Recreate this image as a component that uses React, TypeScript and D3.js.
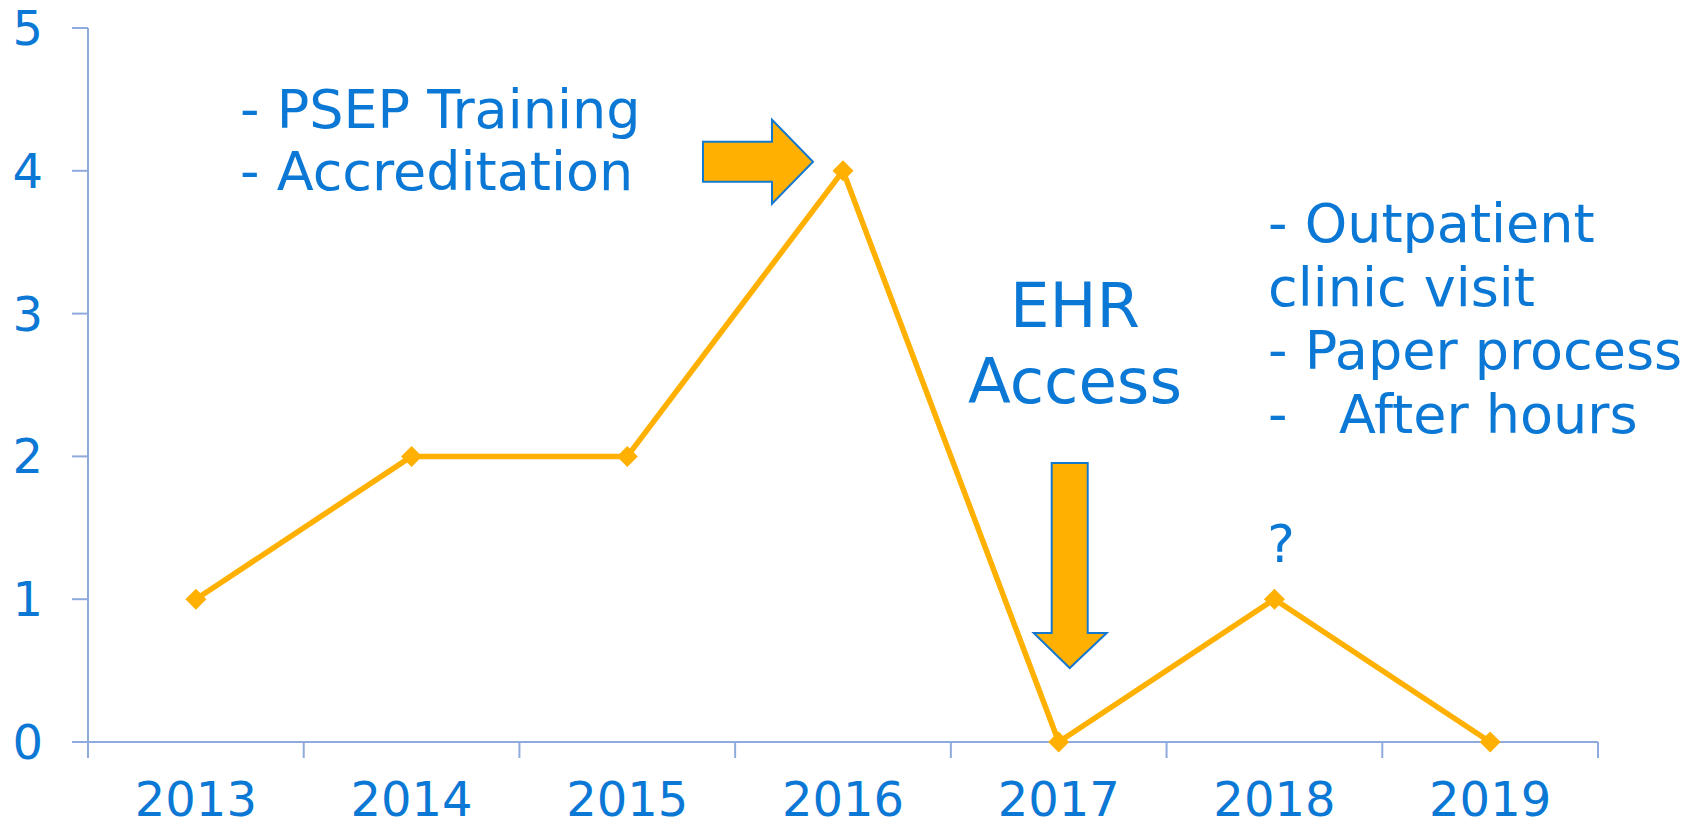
import React from "react";
import * as d3 from "d3";

const years = ["2013", "2014", "2015", "2016", "2017", "2018", "2019"];
const values = [1, 2, 2, 4, 0, 1, 0];
const yTicks = [0, 1, 2, 3, 4, 5];
const noteLeft = ["- PSEP Training", "- Accreditation"];
const noteEHR = ["EHR", "Access"];
const noteRight = ["- Outpatient", "clinic visit", "- Paper process", "-   After hours"];
const noteQ = "?";

const W = 1697;
const H = 828;
const TEXT = "#0A78D4";
const ORANGE = "#FFB000";
const AXIS = "#8FAADC";
const FONT = "'DejaVu Sans', Verdana, sans-serif";

export default function App() {
  const x = d3.scaleBand<string>().domain(years).range([88, 1598]).padding(0);
  const y = d3.scaleLinear().domain([0, 5]).range([742, 28]);
  const cx = (yr: string) => (x(yr) as number) + x.bandwidth() / 2;
  const pts: [number, number][] = years.map((yr, i) => [cx(yr), y(values[i])]);
  const line = d3.line<[number, number]>().x((d) => d[0]).y((d) => d[1]);
  const d = 10.5;

  const rTipX = cx("2016") - 30;
  const rTipY = y(4) - 9;
  const rArrow = [
    [rTipX - 110, rTipY - 20],
    [rTipX - 41, rTipY - 20],
    [rTipX - 41, rTipY - 42],
    [rTipX, rTipY],
    [rTipX - 41, rTipY + 42],
    [rTipX - 41, rTipY + 20],
    [rTipX - 110, rTipY + 20],
  ];
  const dTipX = cx("2017") + 11;
  const dTipY = y(0) - 74;
  const dArrow = [
    [dTipX - 18, dTipY - 205],
    [dTipX + 18, dTipY - 205],
    [dTipX + 18, dTipY - 35],
    [dTipX + 37, dTipY - 35],
    [dTipX, dTipY],
    [dTipX - 36, dTipY - 35],
    [dTipX - 18, dTipY - 35],
  ];
  const poly = (p: number[][]) => p.map((q) => q.join(",")).join(" ");

  return (
    <svg width={W} height={H} style={{ position: "absolute", left: 0, top: 0, background: "#fff" }} fontFamily={FONT}>
      <line x1={88} x2={88} y1={y(5)} y2={y(0) + 16} stroke={AXIS} strokeWidth={2} />
      {yTicks.map((t) => (
        <g key={t}>
          <line x1={72} x2={88} y1={y(t)} y2={y(t)} stroke={AXIS} strokeWidth={2} />
          <text x={43} y={y(t) + 17} textAnchor="end" fontSize={48} fill={TEXT}>
            {t}
          </text>
        </g>
      ))}
      <line x1={72} x2={1598} y1={y(0)} y2={y(0)} stroke={AXIS} strokeWidth={2} />
      {years.map((yr) => (
        <line key={"t" + yr} x1={x(yr) as number} x2={x(yr) as number} y1={y(0)} y2={y(0) + 16} stroke={AXIS} strokeWidth={2} />
      ))}
      <line x1={1598} x2={1598} y1={y(0)} y2={y(0) + 16} stroke={AXIS} strokeWidth={2} />
      {years.map((yr) => (
        <text key={"l" + yr} x={cx(yr)} y={816} textAnchor="middle" fontSize={48} fill={TEXT}>
          {yr}
        </text>
      ))}
      <path d={line(pts) as string} fill="none" stroke={ORANGE} strokeWidth={5.5} strokeLinejoin="round" />
      {pts.map((p, i) => (
        <polygon key={i} points={poly([[p[0], p[1] - d], [p[0] + d, p[1]], [p[0], p[1] + d], [p[0] - d, p[1]]])} fill={ORANGE} />
      ))}
      <polygon points={poly(rArrow)} fill={ORANGE} stroke="#1578CF" strokeWidth={2} />
      <polygon points={poly(dArrow)} fill={ORANGE} stroke="#1578CF" strokeWidth={2} />
      {noteLeft.map((s, i) => (
        <text key={s} x={240} y={128 + i * 62} fontSize={54} fill={TEXT} xmlSpace="preserve" style={{ whiteSpace: "pre" }}>
          {s}
        </text>
      ))}
      {noteEHR.map((s, i) => (
        <text key={s} x={1075} y={327 + i * 76} textAnchor="middle" fontSize={62.5} fill={TEXT}>
          {s}
        </text>
      ))}
      {noteRight.map((s, i) => (
        <text key={s} x={1268} y={242 + i * 63.5} fontSize={54} fill={TEXT} xmlSpace="preserve" style={{ whiteSpace: "pre" }}>
          {s}
        </text>
      ))}
      <text x={1281} y={562} textAnchor="middle" fontSize={52} fill={TEXT}>
        {noteQ}
      </text>
    </svg>
  );
}
